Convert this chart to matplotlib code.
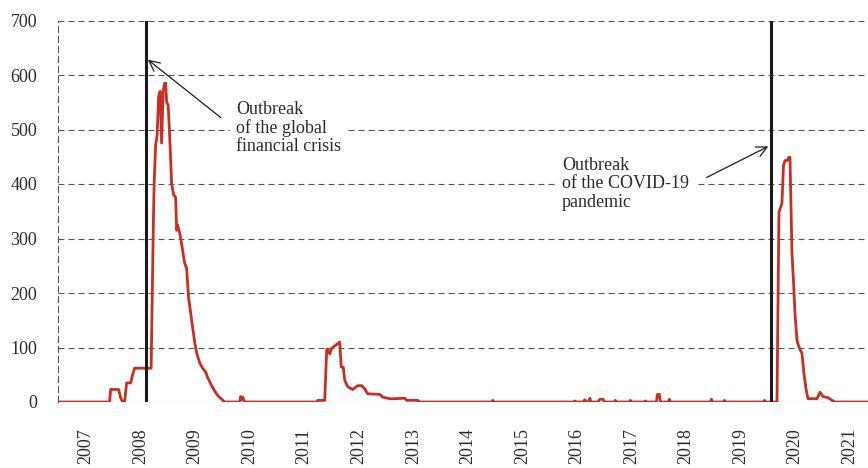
import matplotlib
matplotlib.use("Agg")
import matplotlib.pyplot as plt

plt.rcParams['font.family'] = ['Liberation Serif', 'DejaVu Serif']
plt.rcParams['lines.scale_dashes'] = False

# Time (decimal years) and values
t = [2007.000, 2007.931, 2007.950, 2008.096, 2008.133, 2008.170, 2008.206, 2008.243,
     2008.317, 2008.353, 2008.390, 2008.665, 2008.693, 2008.711, 2008.729, 2008.748,
     2008.775, 2008.803, 2008.830, 2008.858, 2008.885, 2008.913, 2008.940, 2008.959,
     2008.977, 2009.005, 2009.032, 2009.069, 2009.106, 2009.142, 2009.161, 2009.179,
     2009.216, 2009.252, 2009.307, 2009.344, 2009.381, 2009.436, 2009.491, 2009.528,
     2009.583, 2009.638, 2009.693, 2009.729, 2009.803, 2009.858, 2009.913, 2009.986,
     2010.041, 2010.317, 2010.335, 2010.353, 2010.372, 2010.408,
     2011.729, 2011.748, 2011.876, 2011.913, 2011.931, 2011.968, 2012.005, 2012.060,
     2012.115, 2012.151, 2012.179, 2012.216, 2012.243, 2012.298, 2012.390, 2012.482,
     2012.555, 2012.610, 2012.665, 2012.885, 2012.940, 2013.069, 2013.160, 2013.344,
     2013.381, 2013.583, 2013.619,
     2014.940, 2014.958, 2014.977,
     2016.445, 2016.463, 2016.482, 2016.610, 2016.647, 2016.683, 2016.720, 2016.739,
     2016.757, 2016.885, 2016.922, 2016.977, 2017.013, 2017.188, 2017.206, 2017.225,
     2017.463, 2017.482, 2017.500, 2017.739, 2017.757, 2017.775, 2017.959, 2017.977,
     2018.014, 2018.032, 2018.179, 2018.197, 2018.216, 2018.950, 2018.968, 2018.986,
     2019.188, 2019.206, 2019.225, 2019.922, 2019.940, 2019.959,
     2020.170, 2020.206, 2020.261, 2020.289, 2020.317, 2020.353, 2020.390, 2020.408,
     2020.445, 2020.472, 2020.500, 2020.537, 2020.573, 2020.628, 2020.665, 2020.702,
     2020.739, 2020.904, 2020.959, 2021.014, 2021.106, 2021.179, 2021.234, 2021.839]
values = [0, 0, 23, 23, 8, 0, 0, 35,
          35, 50, 62, 62, 62, 180, 300, 400,
          470, 490, 560, 570, 475, 570, 585, 585,
          550, 545, 490, 400, 380, 375, 315, 325,
          310, 290, 255, 245, 190, 150, 110, 90,
          72, 62, 55, 45, 30, 20, 12, 5,
          0, 0, 10, 4, 9, 0,
          0, 3, 3, 97, 97, 88, 99, 103,
          107, 110, 64, 64, 40, 28, 23, 30,
          30, 24, 15, 14, 9, 6, 6, 7,
          3, 3, 0,
          0, 3, 0,
          0, 2, 0, 0, 4, 0, 0, 7,
          0, 0, 5, 5, 0, 0, 3, 0,
          0, 3, 0, 0, 2, 0, 0, 14,
          14, 0, 0, 5, 0, 0, 5, 0,
          0, 3, 0, 0, 3, 0,
          0, 348, 365, 434, 443, 443, 449, 449,
          272, 223, 162, 113, 101, 89, 52, 24,
          6, 6, 18, 10, 8, 3, 0, 0]

years = list(range(2007, 2022))
year_labels = [str(y) for y in years]
y_ticks = [0, 100, 200, 300, 400, 500, 600, 700]

events = [2008.605, 2020.054]
crisis_label = "Outbreak\nof the global\nfinancial crisis"
covid_label = "Outbreak\nof the COVID-19\npandemic"

W, H = 868, 468
fig = plt.figure(figsize=(W / 100, H / 100), dpi=100)
ax = fig.add_axes([58 / W, (H - 402) / H, (W - 58) / W, (402 - 20.5) / H])

dash = (0, (4.3, 2.9))
grid_color = '#555555'
text_color = '#2b2b2b'

for yv in y_ticks:
    ax.axhline(yv, color=grid_color, lw=0.8, linestyle=dash, zorder=1)

ax.plot(t, values, color='#C62F22', lw=2.0, zorder=4, solid_joinstyle='round')

for ev in events:
    ax.axvline(ev, color='#1a1a1a', lw=2.2, zorder=5)

ax.set_xlim(2006.985, 2021.839)
ax.set_ylim(0, 700)

ax.set_yticks(y_ticks)
ax.set_yticklabels([str(v) for v in y_ticks], fontsize=13, color=text_color)
ax.set_xticks([y + 0.5 for y in years])
ax.set_xticklabels(year_labels, rotation=90, fontsize=13, color=text_color, va='top')
ax.tick_params(axis='y', length=0, pad=15)
ax.tick_params(axis='x', length=0, pad=19)

for s in ['top', 'right', 'bottom']:
    ax.spines[s].set_visible(False)
ax.spines['left'].set_linestyle(dash)
ax.spines['left'].set_color(grid_color)
ax.spines['left'].set_linewidth(0.8)

bbox = dict(boxstyle='square,pad=0.35', fc='white', ec='none')
ax.text(2010.257, 503, crisis_label, fontsize=13, color=text_color, ha='left', va='center',
        linespacing=1.1, bbox=bbox, zorder=3)
ax.text(2016.226, 400, covid_label, fontsize=13, color=text_color, ha='left', va='center',
        linespacing=1.1, bbox=bbox, zorder=3)

arrow = dict(arrowstyle='->,head_length=0.5,head_width=0.25', color='#1a1a1a', lw=0.9,
             shrinkA=0, shrinkB=0, mutation_scale=15)
ax.annotate('', xy=(2008.634, 628), xytext=(2009.968, 522), arrowprops=arrow, zorder=6)
ax.annotate('', xy=(2020.010, 469), xytext=(2018.880, 412), arrowprops=arrow, zorder=6)

fig.savefig('out.png', dpi=100)
